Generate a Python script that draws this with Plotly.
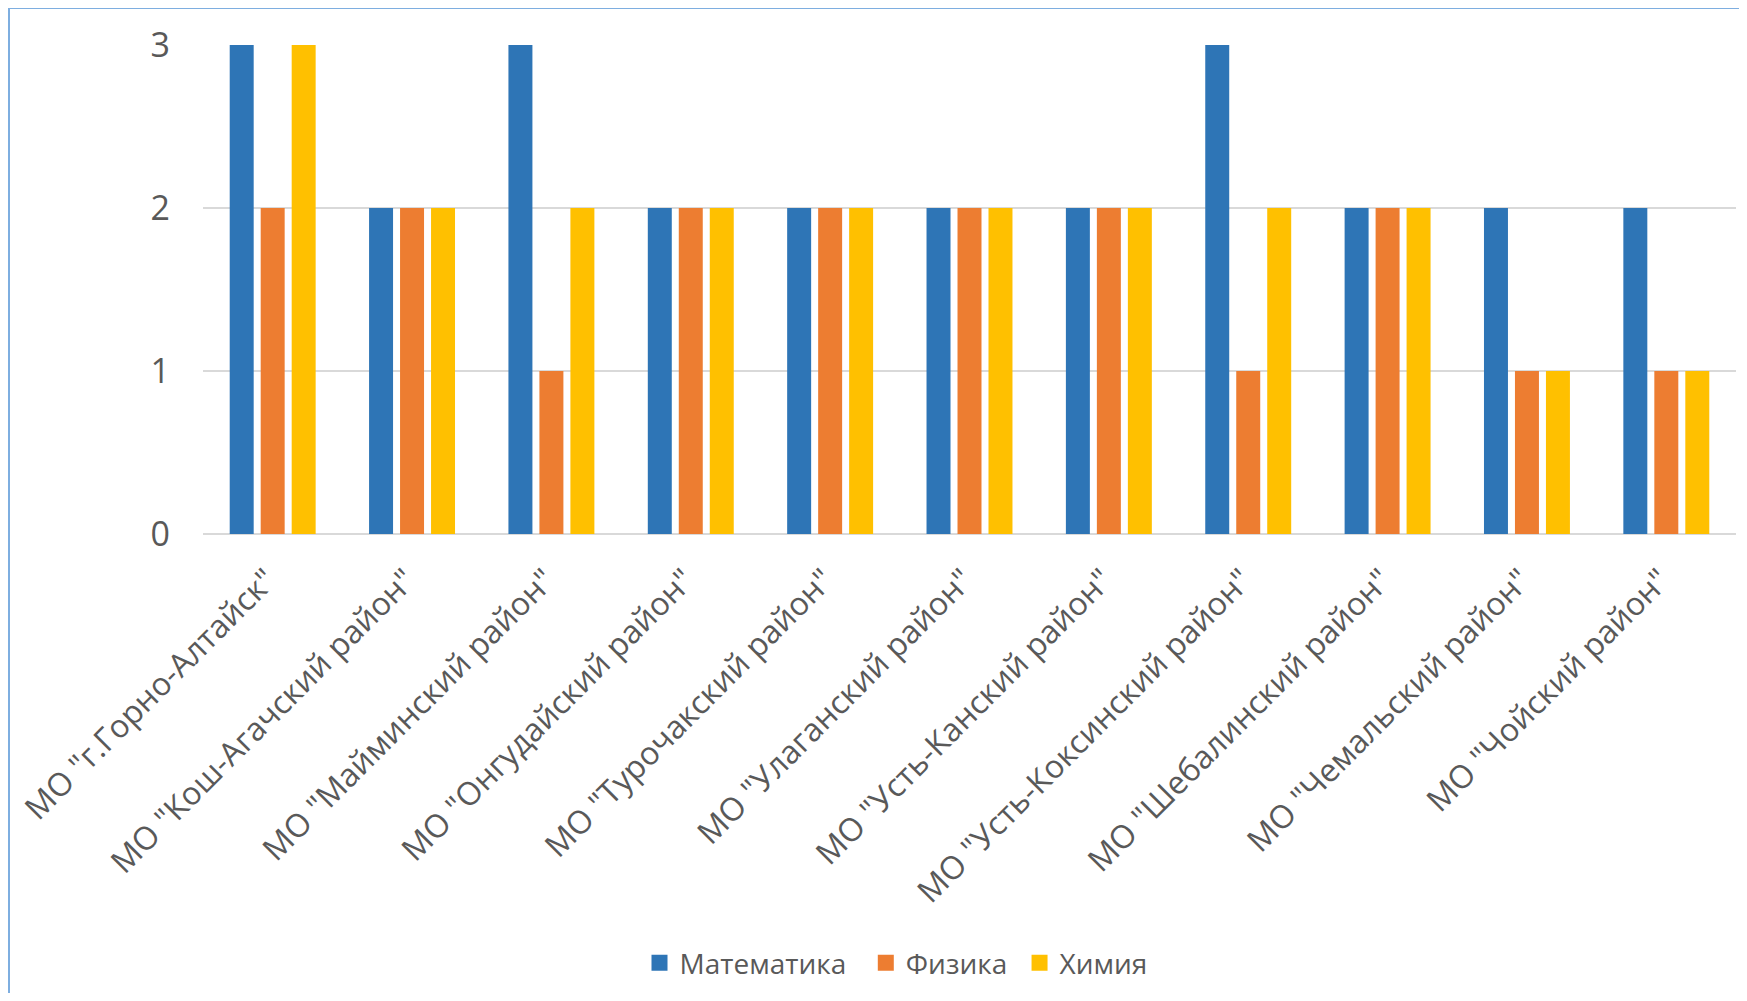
import plotly.graph_objects as go

categories = [
    'МО "г.Горно-Алтайск"',
    'МО "Кош-Агачский район"',
    'МО "Майминский район"',
    'МО "Онгудайский район"',
    'МО "Турочакский район"',
    'МО "Улаганский район"',
    'МО "Усть-Канский район"',
    'МО "Усть-Коксинский район"',
    'МО "Шебалинский район"',
    'МО "Чемальский район"',
    'МО "Чойский район"',
]
math_vals = [3, 2, 3, 2, 2, 2, 2, 3, 2, 2, 2]
phys_vals = [2, 2, 1, 2, 2, 2, 2, 1, 2, 1, 1]
chem_vals = [3, 2, 2, 2, 2, 2, 2, 2, 2, 1, 1]
y_ticks = [0, 1, 2, 3]

series = [
    ("Математика", math_vals, "#2E75B6"),
    ("Физика", phys_vals, "#ED7D31"),
    ("Химия", chem_vals, "#FFC000"),
]
legend_pad = ["\u00a0\u00a0", "\u00a0", ""]

FONT = "Open Sans"
GREY = "#595959"

fig = go.Figure()
for name, vals, color in series:
    fig.add_trace(go.Bar(x=categories, y=vals, name=name, showlegend=False,
                         marker=dict(color=color, line=dict(width=0))))
# legend entries with larger square symbols
for (name, vals, color), pad in zip(series, legend_pad):
    fig.add_trace(go.Scatter(x=[None], y=[None], name=name + pad, mode="markers",
                             marker=dict(symbol="square", size=18, color=color),
                             showlegend=True))

OFF = 8  # default page body margin
W, H = 1747 - 2 * OFF, 1001 - 2 * OFF
L, R, T = 203 - OFF, 3, 45 - OFF
B = H - (534 - OFF)
pw = W - L - R
ph = H - T - B

def px_x(px):
    return (px - OFF - L) / pw

def px_y(py):
    return (H - B - (py - OFF)) / ph

border = "#7EAEE0"
fig.add_shape(type="line", xref="paper", yref="paper",
              x0=px_x(9), x1=px_x(1760), y0=px_y(8), y1=px_y(8),
              line=dict(color=border, width=2))
fig.add_shape(type="line", xref="paper", yref="paper",
              x0=px_x(9), x1=px_x(9), y0=px_y(8), y1=px_y(1010),
              line=dict(color=border, width=2))

fig.update_layout(
    width=W, height=H,
    margin=dict(l=L, r=R, t=T, b=B, autoexpand=False),
    paper_bgcolor="white", plot_bgcolor="white",
    barmode="group", bargap=0.333, bargroupgap=0.226,
    font=dict(family=FONT, color=GREY),
    showlegend=True,
    legend=dict(orientation="h", x=px_x(896), y=px_y(963),
                xanchor="center", yanchor="middle",
                font=dict(size=28, family=FONT, color=GREY),
                itemwidth=30, tracegroupgap=0),
    xaxis=dict(tickangle=-45, tickfont=dict(size=32, family=FONT, color=GREY),
               showgrid=False, showline=False, ticks="", automargin=False,
               ticklabelstandoff=20, ticklabelshift=-6),
    yaxis=dict(range=[0, 3], tickvals=y_ticks,
               tickfont=dict(size=34, family=FONT, color=GREY),
               showgrid=True, gridcolor="#D9D9D9", gridwidth=2,
               zeroline=True, zerolinecolor="#D9D9D9", zerolinewidth=2,
               showline=False, ticks="", ticklabelstandoff=32, automargin=False),
)

fig.write_html("out.html")
